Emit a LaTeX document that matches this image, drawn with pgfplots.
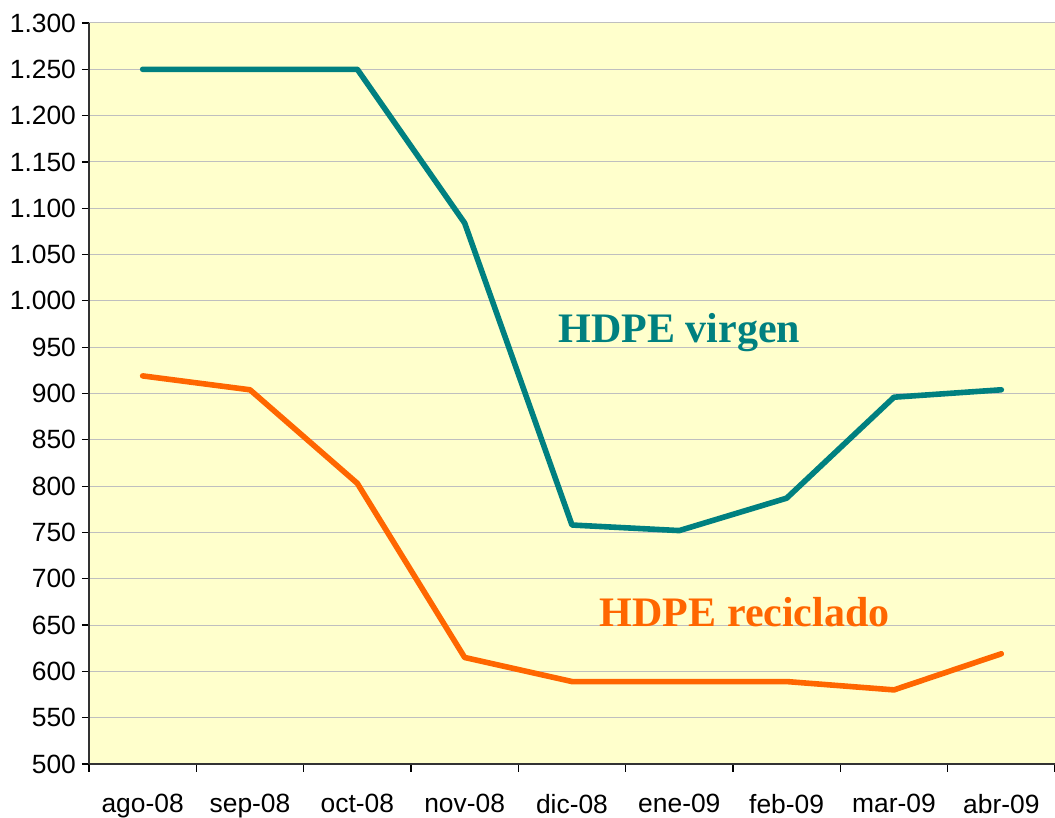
\documentclass[border=0pt]{standalone}
\usepackage{pgfplots}
\pgfplotsset{compat=1.18}
\usepackage{fontspec}
\setmainfont{Liberation Sans}
\newfontfamily\timesfont{Liberation Serif}
\definecolor{tealline}{RGB}{0,128,128}
\definecolor{orangeline}{RGB}{255,102,0}
\definecolor{bgyellow}{RGB}{255,255,204}
\begin{document}
\begin{tikzpicture}[x=1pt,y=1pt]
\path[use as bounding box] (-44.5,-27) rectangle (483,382);
\begin{axis}[
  at={(0,0)}, anchor=south west,
  scale only axis, width=483pt, height=370.5pt,
  xmin=-0.5, xmax=8.5, ymin=500, ymax=1300,
  axis background/.style={fill=bgyellow},
  axis x line*=bottom, axis y line*=left,
  axis line style={line width=0.8pt, color=black!80},
  xtick={0,...,8},
  xticklabels={ago-08,sep-08,oct-08,nov-08,dic-08,ene-09,feb-09,mar-09,abr-09},
  major x tick style={draw=none},
  minor xtick={-0.5,0.5,...,8.5},
  minor tick length=4pt,
  major tick length=3.5pt,
  tick align=outside,
  tick style={black, line width=0.6pt},
  ytick={500,550,...,1300},
  ymajorgrids,
  grid style={color=black!25, line width=0.5pt},
  /pgf/number format/.cd, fixed, use comma, 1000 sep={.}, assume math mode=true,
  /pgfplots/.cd,
  ticklabel style={font=\fontsize{13.2}{15}\selectfont},
  yticklabel style={xshift=0.5pt},
  xticklabel style={yshift=-8pt},
  clip=false,
]
\addplot[color=tealline, line width=2.8pt, line join=round, line cap=round] coordinates {
  (0,1250) (1,1250) (2,1250) (3,1084) (4,758) (5,752) (6,787) (7,896) (8,904)
};
\addplot[color=orangeline, line width=2.8pt, line join=round, line cap=round] coordinates {
  (0,919) (1,904) (2,803) (3,615) (4,589) (5,589) (6,589) (7,580) (8,619)
};
\node[text=tealline, font=\timesfont\bfseries\fontsize{21}{24}\selectfont] at (axis cs:5.0,966) {HDPE virgen};
\node[text=orangeline, font=\timesfont\bfseries\fontsize{21}{24}\selectfont] at (axis cs:5.61,664) {HDPE reciclado};
\end{axis}
\end{tikzpicture}
\end{document}
